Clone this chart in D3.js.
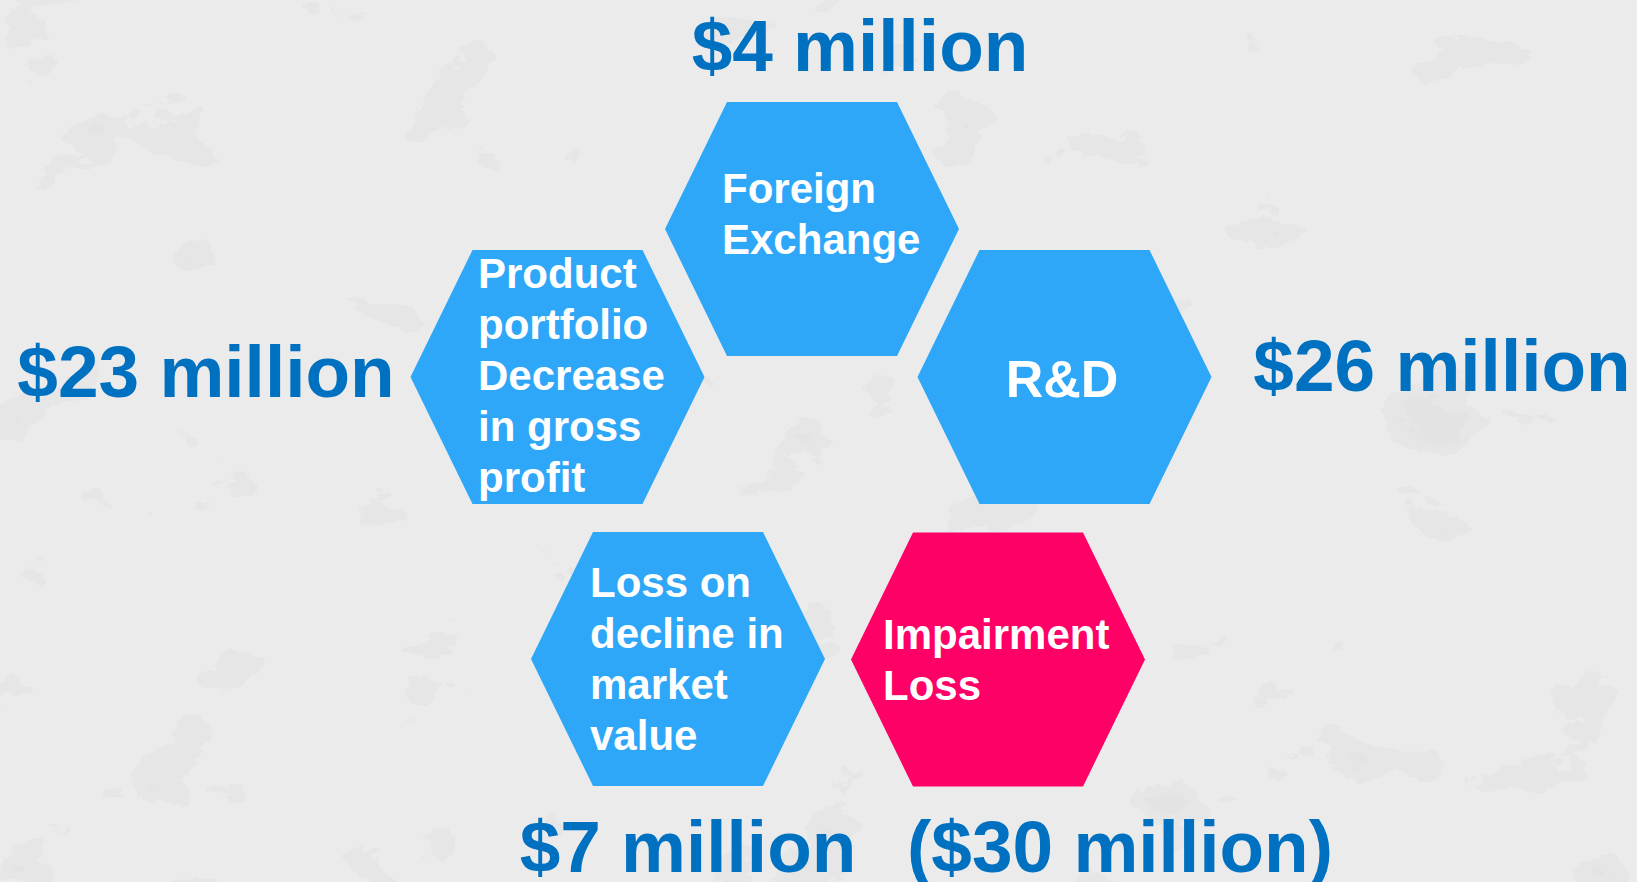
<!DOCTYPE html>
<html>
<head>
<meta charset="utf-8">
<script src="https://cdn.jsdelivr.net/npm/d3@7"></script>
<style>
  html, body { margin: 0; padding: 0; background: #e8e8e8; }
  svg { display: block; }
  text { font-family: "Liberation Sans", Arial, sans-serif; font-weight: bold; }
</style>
</head>
<body>
<div id="chart"></div>
<script>
// --- Data ---
const categories = ["Foreign Exchange", "Product portfolio Decrease in gross profit", "R&D", "Loss on decline in market value", "Impairment Loss"];
const categoryLines = [
  ["Foreign", "Exchange"],
  ["Product", "portfolio", "Decrease", "in gross", "profit"],
  ["R&D"],
  ["Loss on", "decline in", "market", "value"],
  ["Impairment", "Loss"]
];
const amounts = [4, 23, 26, 7, -30];  // $ million
const isLoss = [false, false, false, false, true];

// --- Layout (hex centres, label anchors) ---
const W = 1637, H = 882;
const hexLayout = [
  { cx: 812, cy: 229, textX: 722, textY: 203, align: "start", size: 42 },
  { cx: 557.5, cy: 377, textX: 478, textY: 288, align: "start", size: 42 },
  { cx: 1064.5, cy: 377, textX: 1062, textY: 397, align: "middle", size: 52 },
  { cx: 678, cy: 659, textX: 590, textY: 597, align: "start", size: 42 },
  { cx: 998, cy: 659.5, textX: 883, textY: 649, align: "start", size: 42 }
];
const amountLayout = [
  { x: 860, y: 71 },
  { x: 206, y: 397 },
  { x: 1442, y: 391 },
  { x: 688, y: 872 },
  { x: 1120, y: 872 }
];

const halfW = 147, halfTop = 85, halfH = 127;
const lineGap = 51;

const svg = d3.select("#chart").append("svg")
    .attr("width", W)
    .attr("height", H);

// --- Background texture (stone-like) ---
const defs = svg.append("defs");
const filt = defs.append("filter").attr("id", "marble")
    .attr("x", 0).attr("y", 0).attr("width", "100%").attr("height", "100%");
filt.append("feTurbulence")
    .attr("type", "fractalNoise")
    .attr("baseFrequency", "0.008 0.011")
    .attr("numOctaves", 6)
    .attr("seed", 11)
    .attr("result", "noise");
filt.append("feColorMatrix")
    .attr("in", "noise")
    .attr("type", "matrix")
    .attr("values", "0 0 0 0 0.45  0 0 0 0 0.45  0 0 0 0 0.45  1.6 0 0 0 -0.72")
    .attr("result", "blots");
filt.append("feComponentTransfer")
    .append("feFuncA")
    .attr("type", "discrete")
    .attr("tableValues", "0 0 0.25 0.4 0.55");

svg.append("rect")
    .attr("width", W).attr("height", H)
    .style("fill", "#ebebeb");
svg.append("rect")
    .attr("width", W).attr("height", H)
    .attr("filter", "url(#marble)")
    .style("opacity", 0.35);

// --- Hexagons ---
const hexLine = d3.line().curve(d3.curveLinearClosed);
const hexPoints = d => [
  [d.cx - halfTop, d.cy - halfH],
  [d.cx + halfTop, d.cy - halfH],
  [d.cx + halfW, d.cy],
  [d.cx + halfTop, d.cy + halfH],
  [d.cx - halfTop, d.cy + halfH],
  [d.cx - halfW, d.cy]
];

const nodes = categories.map((c, i) => ({
  name: c, lines: categoryLines[i], amount: amounts[i], loss: isLoss[i], ...hexLayout[i]
}));

const color = d3.scaleOrdinal().domain([false, true]).range(["#2ea7f9", "#ff0066"]);

svg.append("g").selectAll("path")
    .data(nodes)
    .join("path")
    .attr("d", d => hexLine(hexPoints(d)))
    .style("fill", d => color(d.loss));

// --- Category text inside hexagons ---
const labels = svg.append("g").selectAll("text")
    .data(nodes)
    .join("text")
    .attr("x", d => d.textX)
    .attr("y", d => d.textY)
    .attr("text-anchor", d => d.align)
    .style("font-size", d => d.size + "px")
    .style("fill", "#ffffff");

labels.selectAll("tspan")
    .data(d => d.lines.map(l => ({ l, x: d.textX })))
    .join("tspan")
    .attr("x", d => d.x)
    .attr("dy", (d, i) => i === 0 ? 0 : lineGap)
    .text(d => d.l);

// --- Amount labels ---
const fmt = v => v < 0 ? `($${-v} million)` : `$${v} million`;

svg.append("g").selectAll("text")
    .data(nodes)
    .join("text")
    .attr("x", (d, i) => amountLayout[i].x)
    .attr("y", (d, i) => amountLayout[i].y)
    .attr("text-anchor", "middle")
    .style("font-size", "73px")
    .style("fill", "#0070c0")
    .text(d => fmt(d.amount));
</script>
</body>
</html>
